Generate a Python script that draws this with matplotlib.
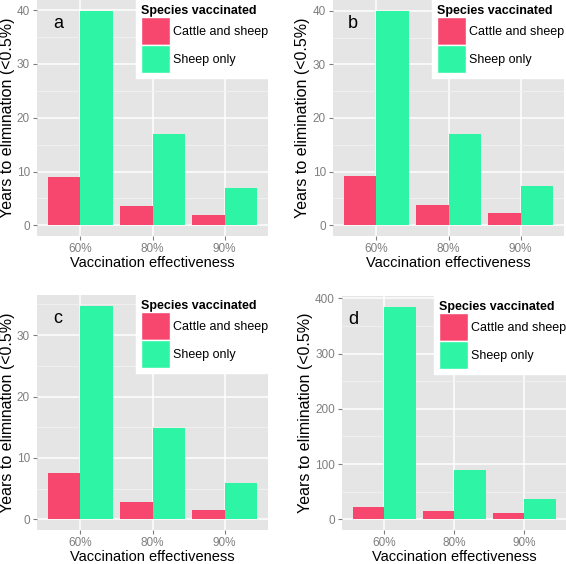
import numpy as np
import matplotlib
matplotlib.use('Agg')
import matplotlib.pyplot as plt
from matplotlib.patches import Patch
from matplotlib.ticker import MultipleLocator

plt.rcParams['font.family'] = ['Liberation Sans', 'DejaVu Sans']
plt.rcParams['axes.unicode_minus'] = False
plt.rcParams['figure.dpi'] = 100

effectiveness = ['60%', '80%', '90%']
species = ['Cattle and sheep', 'Sheep only']
colors = ['#F8476F', '#2EF5A6']

panel_a_cattle = [8.9, 3.5, 1.9]
panel_a_sheep = [39.9, 16.9, 6.9]
panel_b_cattle = [9.1, 3.8, 2.2]
panel_b_sheep = [40.0, 17.0, 7.4]
panel_c_cattle = [7.6, 2.9, 1.5]
panel_c_sheep = [34.8, 14.8, 5.9]
panel_d_cattle = [22, 15, 12]
panel_d_sheep = [385, 89, 36]

panel_labels = ['a', 'b', 'c', 'd']
major_steps = [10, 10, 10, 100]

W, H = 566, 564
# axes boxes in pixels: left, top, right, bottom
boxes = [(37, 0, 268, 236), (333, 0, 564, 236),
         (37, 295, 268, 530), (342, 296, 566, 530)]
ylabel_right = [15, 310, 15, 313]
label_x = [0.09, 0.087, 0.09, 0.05]


def draw_panel(fig, box, label, lx, cattle, sheep, step, ylab_px):
    l, t, r, b = box
    ax = fig.add_axes([l / W, 1 - b / H, (r - l) / W, (b - t) / H])
    ax.set_facecolor('#E5E5E5')
    x = np.arange(1, len(effectiveness) + 1)
    w = 0.45
    ax.bar(x - w / 2, cattle, width=w, color=colors[0], linewidth=0, zorder=3)
    ax.bar(x + w / 2, sheep, width=w, color=colors[1], linewidth=0, zorder=3)

    top = max(max(cattle), max(sheep))
    ax.set_ylim(-0.05 * top, 1.05 * top)
    ax.set_xlim(0.4, len(effectiveness) + 0.6)
    ax.set_xticks(x)
    ax.set_xticklabels(effectiveness)
    ax.yaxis.set_major_locator(MultipleLocator(step))
    ax.yaxis.set_minor_locator(MultipleLocator(step / 2))

    ax.grid(which='major', color='white', linewidth=1.1, zorder=1)
    ax.grid(which='minor', axis='y', color='#F2F2F2', linewidth=0.6, zorder=0)
    ax.tick_params(which='minor', length=0)
    ax.tick_params(which='major', length=3, width=0.8, color='#7F7F7F',
                   labelcolor='#7F7F7F', labelsize=8.5, pad=2)
    for s in ax.spines.values():
        s.set_visible(False)

    ax.set_xlabel('Vaccination effectiveness', fontsize=10.5, labelpad=1)
    ax.set_ylabel('Years to elimination (<0.5%)', fontsize=11.5)
    ax.yaxis.set_label_coords((ylab_px - l) / (r - l), 0.5)

    ax.text(lx, 0.90, label, transform=ax.transAxes,
            fontsize=13, ha='center', va='center', zorder=5)

    handles = [Patch(facecolor=c, edgecolor='white', linewidth=1) for c in colors]
    leg = ax.legend(handles, species, title='Species vaccinated', loc='upper right',
                    bbox_to_anchor=(1.0 + 5 / (r - l), 1.0), borderaxespad=0, fontsize=9,
                    title_fontproperties={'weight': 'bold', 'size': 9},
                    handlelength=2.3, handleheight=3.07, handletextpad=0.25,
                    labelspacing=0, borderpad=0.4, frameon=True, fancybox=False)
    leg.set_alignment('left')
    leg.get_frame().set_facecolor('white')
    leg.get_frame().set_edgecolor('white')
    leg.get_frame().set_alpha(1)
    leg.set_zorder(6)
    return ax


def main():
    fig = plt.figure(figsize=(W / 100, H / 100), dpi=100)
    data = [(panel_a_cattle, panel_a_sheep), (panel_b_cattle, panel_b_sheep),
            (panel_c_cattle, panel_c_sheep), (panel_d_cattle, panel_d_sheep)]
    for i, (cattle, sheep) in enumerate(data):
        draw_panel(fig, boxes[i], panel_labels[i], label_x[i], cattle, sheep,
                   major_steps[i], ylabel_right[i])
    fig.savefig('out.png', dpi=100)
    plt.close(fig)


if __name__ == "__main__":
    main()
